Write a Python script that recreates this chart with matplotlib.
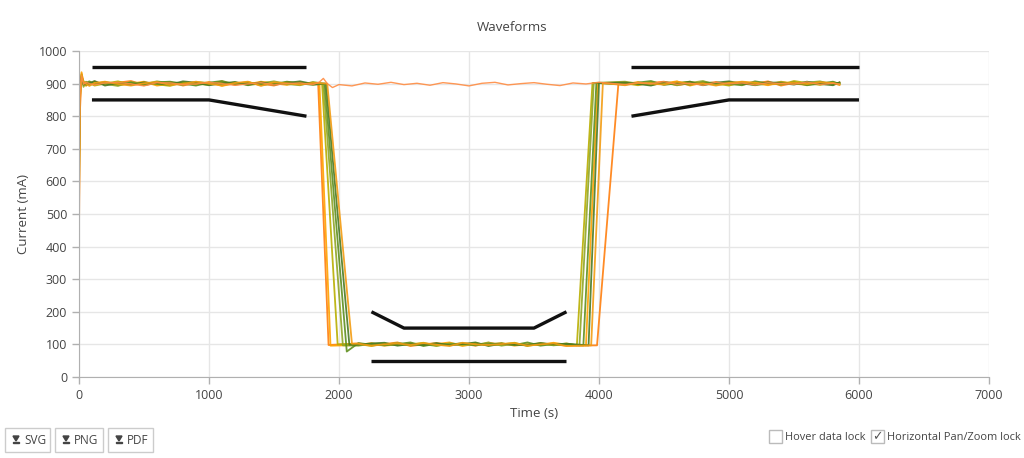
import matplotlib
matplotlib.use('Agg')
import matplotlib.pyplot as plt
from matplotlib.patches import Rectangle, Polygon

plt.rcParams['font.family'] = ['Open Sans', 'DejaVu Sans']

# ---- данные ----
start_t = [0, 8, 20, 35, 55, 80, 120, 200, 300, 400, 500, 600, 700, 800,
           900, 1000, 1100, 1200, 1300, 1400, 1500, 1600, 1700, 1800]
low_t = [2150, 2250, 2350, 2450, 2550, 2650, 2750, 2850, 2950, 3050,
         3150, 3250, 3350, 3450, 3550, 3650, 3750]
high2_t = [4200, 4300, 4400, 4500, 4600, 4700, 4800, 4900, 5000, 5100,
           5200, 5300, 5400, 5500, 5600, 5700, 5800, 5850]

colors = ['#ff7f0e', '#ffa200', '#b8ae00', '#8fa526', '#5f8f1f', '#4a7a23', '#f39c12']

# время начала/конца спада и нарастания
fall_start = [1840, 1850, 1870, 1880, 1890, 1900, 1910]
fall_end = [1920, 1935, 1990, 2030, 2060, 2080, 2100]
fall_end_val = [98, 96, 100, 97, 78, 99, 102]
rise_start = [3985, 3900, 3830, 3850, 3880, 3920, 3940]
rise_end = [4150, 3990, 3950, 3960, 3980, 4000, 4030]

high1 = [
    [430, 820, 925, 895, 905, 898, 906, 897, 903, 908, 896, 901, 905, 894, 902, 899, 907, 896, 903, 900, 894, 905, 899, 903],
    [610, 880, 935, 900, 893, 904, 897, 903, 895, 900, 906, 894, 899, 903, 897, 905, 893, 901, 898, 906, 901, 896, 904, 898],
    [700, 900, 918, 908, 896, 902, 894, 900, 907, 897, 902, 898, 893, 904, 900, 896, 903, 899, 905, 895, 902, 898, 903, 900],
    [560, 860, 928, 890, 906, 895, 903, 899, 893, 905, 898, 907, 901, 896, 905, 902, 897, 904, 895, 901, 907, 899, 895, 905],
    [750, 905, 915, 897, 902, 907, 899, 905, 898, 903, 895, 904, 906, 900, 894, 903, 908, 898, 902, 897, 899, 906, 901, 896],
    [650, 890, 922, 903, 897, 901, 908, 894, 902, 896, 904, 900, 897, 907, 903, 895, 901, 905, 896, 904, 897, 902, 907, 899],
    [500, 850, 930, 905, 899, 893, 902, 906, 899, 894, 901, 905, 896, 899, 906, 900, 894, 902, 906, 893, 904, 901, 897, 902],
]
low = [
    [103, 97, 101, 106, 95, 100, 104, 98, 102, 96, 105, 99, 101, 97, 103, 100, 96],
    [98, 104, 96, 100, 103, 97, 101, 106, 95, 102, 99, 104, 96, 101, 98, 105, 99],
    [101, 95, 103, 98, 100, 105, 96, 102, 99, 104, 97, 100, 105, 95, 102, 98, 103],
    [96, 102, 99, 104, 97, 101, 95, 103, 100, 98, 106, 96, 102, 99, 104, 97, 101],
    [104, 99, 97, 101, 106, 95, 102, 99, 104, 97, 101, 103, 98, 106, 96, 101, 99],
    [99, 103, 105, 96, 101, 98, 104, 97, 101, 106, 95, 102, 99, 97, 104, 100, 102],
    [102, 96, 100, 103, 98, 104, 99, 95, 105, 100, 98, 101, 104, 96, 100, 103, 95],
]
high2 = [
    [904, 897, 902, 906, 895, 901, 899, 905, 896, 903, 900, 907, 894, 902, 898, 905, 899, 903],
    [898, 905, 896, 901, 907, 894, 903, 899, 905, 897, 902, 895, 906, 900, 896, 903, 901, 897],
    [901, 895, 904, 899, 902, 906, 897, 900, 894, 905, 899, 903, 897, 908, 902, 896, 904, 900],
    [906, 900, 897, 903, 895, 902, 908, 896, 901, 904, 895, 900, 905, 899, 903, 907, 897, 902],
    [897, 903, 908, 896, 901, 897, 904, 902, 899, 895, 907, 901, 898, 904, 895, 900, 906, 899],
    [903, 899, 894, 905, 900, 906, 895, 903, 907, 900, 896, 904, 902, 897, 906, 899, 895, 904],
    [895, 902, 900, 897, 906, 899, 901, 894, 902, 906, 903, 897, 900, 903, 899, 904, 902, 896],
]

# трасса, которая остаётся высокой
stay_color = '#ff8c42'
stay_t = start_t + [1850, 1880, 1910, 1950, 2000, 2100, 2200, 2300, 2400, 2500, 2600, 2700,
                    2800, 2900, 3000, 3100, 3200, 3300, 3400, 3500, 3600, 3700, 3800,
                    3900, 4000] + high2_t
stay_v = [580, 870, 924, 898, 904, 900, 896, 902, 904, 899, 893, 903, 902, 897, 899, 904,
          900, 895, 899, 903, 896, 900, 902, 897,
          905, 916, 900, 888, 897, 893, 902, 898, 904, 897, 901, 895, 903, 899, 893,
          901, 904, 896, 900, 903, 898, 894, 902, 899, 904,
          897, 903, 900, 906, 898, 901, 895, 904, 899, 902, 896, 903, 900, 898, 905, 897, 901, 899]

# границы (маски)
masks = [
    ([100, 1750], [950, 950]),
    ([100, 1000, 1750], [850, 850, 800]),
    ([2250, 2500, 3500, 3750], [200, 150, 150, 200]),
    ([2250, 3750], [50, 50]),
    ([4250, 6000], [950, 950]),
    ([4250, 5000, 6000], [800, 850, 850]),
]

# ---- график ----
fig = plt.figure(figsize=(10.24, 4.58), dpi=100)
ax = fig.add_axes([0.0771, 0.1769, 0.8887, 0.7117])

for i in range(len(colors)):
    t = start_t + [fall_start[i], fall_end[i]] + low_t + [rise_start[i], rise_end[i]] + high2_t
    v = high1[i] + [900, fall_end_val[i]] + low[i] + [97, 902] + high2[i]
    ax.plot(t, v, color=colors[i], linewidth=1.3, alpha=0.9)

ax.plot(stay_t, stay_v, color=stay_color, linewidth=1.0, alpha=0.9)

for mx, my in masks:
    ax.plot(mx, my, color='#111111', linewidth=2.4, solid_capstyle='butt')

ax.set_xlim(0, 7000)
ax.set_ylim(0, 1000)
ax.set_xticks(range(0, 7001, 1000))
ax.set_yticks(range(0, 1001, 100))
ax.grid(True, color='#e6e6e6', linewidth=1)
ax.set_axisbelow(True)
for s in ['top', 'right']:
    ax.spines[s].set_visible(False)
for s in ['left', 'bottom']:
    ax.spines[s].set_color('#b0b0b0')
ax.tick_params(colors='#b0b0b0', labelcolor='#444444', labelsize=9, length=5, width=1)

ax.set_xlabel('Time (s)', fontsize=9.5, color='#444444', labelpad=4)
ax.set_ylabel('Current (mA)', fontsize=9.5, color='#444444', labelpad=6)
fig.text(0.5, 0.94, 'Waveforms', ha='center', va='center', fontsize=9.5, color='#444444')

# кнопки экспорта
W, H = 1024.0, 458.0
for x0, x1, lbl in [(5, 50, 'SVG'), (55, 103, 'PNG'), (108, 153, 'PDF')]:
    fig.patches.append(Rectangle((x0 / W, 1 - 452 / H), (x1 - x0) / W, 24 / H,
                                 transform=fig.transFigure, fill=False,
                                 edgecolor='#cccccc', linewidth=1))
    ix = x0 + 11
    fig.patches.append(Polygon([((ix - 3) / W, 1 - 436 / H), ((ix + 3) / W, 1 - 436 / H),
                                (ix / W, 1 - 441 / H)], closed=True,
                               transform=fig.transFigure, color='#444444'))
    fig.patches.append(Rectangle(((ix - 3) / W, 1 - 443 / H), 6 / W, 1.2 / H,
                                 transform=fig.transFigure, color='#444444'))
    fig.text((x0 + 19) / W, 1 - 440 / H, lbl, ha='left', va='center',
             fontsize=8.5, color='#444444')

# чекбоксы
for bx, lbl, checked in [(769, 'Hover data lock', False),
                         (871, 'Horizontal Pan/Zoom lock', True)]:
    fig.patches.append(Rectangle((bx / W, 1 - 443 / H), 13 / W, 13 / H,
                                 transform=fig.transFigure, fill=False,
                                 edgecolor='#bbbbbb', linewidth=1))
    if checked:
        fig.text((bx + 6.5) / W, 1 - 436.5 / H, '✓', ha='center', va='center',
                 fontsize=9, color='#555555', family=['DejaVu Sans'])
    fig.text((bx + 16) / W, 1 - 437 / H, lbl, ha='left', va='center',
             fontsize=7.9, color='#444444')

fig.savefig('out.png', dpi=100)
